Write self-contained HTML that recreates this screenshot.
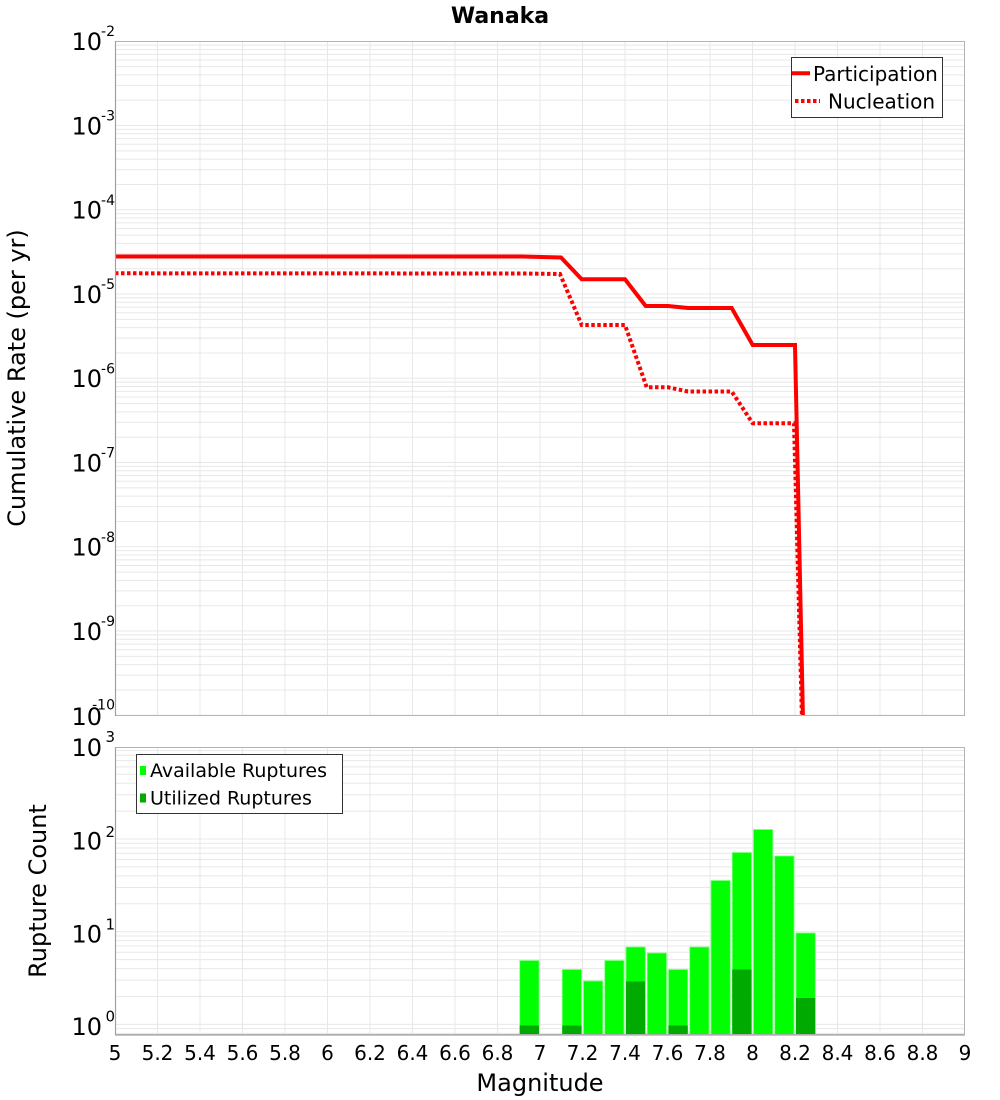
<!DOCTYPE html>
<html><head><meta charset="utf-8"><style>
html,body{margin:0;padding:0;background:#fff;}
svg{display:block;}
text{font-family:"DejaVu Sans","Liberation Sans",sans-serif;fill:#000;}
</style></head><body>
<svg width="1000" height="1100" viewBox="0 0 1000 1100" xmlns="http://www.w3.org/2000/svg">
<defs>
<clipPath id="cp1"><rect x="115" y="41" width="850" height="675"/></clipPath>
<g id="td" stroke="#e8e8e8" stroke-width="1">
<line x1="115" x2="965" y1="0" y2="0"/>
<line x1="115" x2="965" y1="-25.36" y2="-25.36"/>
<line x1="115" x2="965" y1="-40.2" y2="-40.2"/>
<line x1="115" x2="965" y1="-50.72" y2="-50.72"/>
<line x1="115" x2="965" y1="-58.89" y2="-58.89"/>
<line x1="115" x2="965" y1="-65.56" y2="-65.56"/>
<line x1="115" x2="965" y1="-71.2" y2="-71.2"/>
<line x1="115" x2="965" y1="-76.09" y2="-76.09"/>
<line x1="115" x2="965" y1="-80.39" y2="-80.39"/>
</g>
<g id="bd" stroke="#e8e8e8" stroke-width="1">
<line x1="115" x2="965" y1="0" y2="0"/>
<line x1="115" x2="965" y1="-27.91" y2="-27.91"/>
<line x1="115" x2="965" y1="-44.23" y2="-44.23"/>
<line x1="115" x2="965" y1="-55.81" y2="-55.81"/>
<line x1="115" x2="965" y1="-64.79" y2="-64.79"/>
<line x1="115" x2="965" y1="-72.14" y2="-72.14"/>
<line x1="115" x2="965" y1="-78.34" y2="-78.34"/>
<line x1="115" x2="965" y1="-83.72" y2="-83.72"/>
<line x1="115" x2="965" y1="-88.46" y2="-88.46"/>
</g>
</defs>

<!-- Title -->
<text x="500" y="23" font-size="22" font-weight="bold" text-anchor="middle">Wanaka</text>

<!-- TOP PLOT grid -->
<use href="#td" y="715.3"/>
<use href="#td" y="631.05"/>
<use href="#td" y="546.8"/>
<use href="#td" y="462.55"/>
<use href="#td" y="378.3"/>
<use href="#td" y="294.05"/>
<use href="#td" y="209.8"/>
<use href="#td" y="125.55"/>
<g stroke="#e8e8e8" stroke-width="1">
<line x1="157.5" x2="157.5" y1="41" y2="715"/>
<line x1="200" x2="200" y1="41" y2="715"/>
<line x1="242.5" x2="242.5" y1="41" y2="715"/>
<line x1="285" x2="285" y1="41" y2="715"/>
<line x1="327.5" x2="327.5" y1="41" y2="715"/>
<line x1="370" x2="370" y1="41" y2="715"/>
<line x1="412.5" x2="412.5" y1="41" y2="715"/>
<line x1="455" x2="455" y1="41" y2="715"/>
<line x1="497.5" x2="497.5" y1="41" y2="715"/>
<line x1="540" x2="540" y1="41" y2="715"/>
<line x1="582.5" x2="582.5" y1="41" y2="715"/>
<line x1="625" x2="625" y1="41" y2="715"/>
<line x1="667.5" x2="667.5" y1="41" y2="715"/>
<line x1="710" x2="710" y1="41" y2="715"/>
<line x1="752.5" x2="752.5" y1="41" y2="715"/>
<line x1="795" x2="795" y1="41" y2="715"/>
<line x1="837.5" x2="837.5" y1="41" y2="715"/>
<line x1="880" x2="880" y1="41" y2="715"/>
<line x1="922.5" x2="922.5" y1="41" y2="715"/>
</g>

<!-- TOP series -->
<g clip-path="url(#cp1)" fill="none" stroke="#ff0000" stroke-width="4" stroke-linejoin="miter">
<polyline points="115,256.5 522,256.5 561,257.5 581.7,279.3 625,279.3 645.7,306 668,306 688,308 731.7,308 752.7,345 795,345 803,720"/>
<polyline stroke-dasharray="3.5,2.5" points="115,273.3 522,273.5 560,274 581.7,325 625,325 646.7,387.3 668,387.3 688,391.5 731.7,391.5 752.7,423.3 794,423.3 802,720"/>
</g>

<!-- TOP border -->
<rect x="115.5" y="41.5" width="849" height="674" fill="none" stroke="#b4b4b4" stroke-width="1"/>
<line x1="115.5" x2="115.5" y1="41" y2="716" stroke="#a0a0a0" stroke-width="1.2"/>

<!-- TOP legend -->
<rect x="791.5" y="57.5" width="151" height="60" fill="#fff" stroke="#333" stroke-width="1"/>
<line x1="792" x2="810" y1="73.3" y2="73.3" stroke="#ff0000" stroke-width="4"/>
<text x="813" y="81" font-size="20">Participation</text>
<line x1="795" x2="820" y1="101" y2="101" stroke="#ff0000" stroke-width="4" stroke-dasharray="3.5,2.5"/>
<text x="828" y="108.5" font-size="20">Nucleation</text>

<!-- TOP y tick labels -->
<g font-size="24" text-anchor="end">
<text x="102" y="50">10</text>
<text x="102" y="134.3">10</text>
<text x="102" y="218.5">10</text>
<text x="102" y="302.8">10</text>
<text x="102" y="387">10</text>
<text x="102" y="471.3">10</text>
<text x="102" y="555.5">10</text>
<text x="102" y="639.8">10</text>
<text x="102" y="725">10</text>
</g>
<g font-size="14" text-anchor="end">
<text x="115" y="36">-2</text>
<text x="115" y="120.5">-3</text>
<text x="115" y="204.8">-4</text>
<text x="115" y="289">-5</text>
<text x="115" y="373.3">-6</text>
<text x="115" y="457.5">-7</text>
<text x="115" y="541.8">-8</text>
<text x="115" y="626">-9</text>
<text x="115" y="709.5">-10</text>
</g>

<text transform="translate(25,378) rotate(-90)" font-size="24" text-anchor="middle">Cumulative Rate (per yr)</text>

<!-- BOTTOM PLOT grid -->
<use href="#bd" y="1024.4"/>
<use href="#bd" y="931.7"/>
<use href="#bd" y="839"/>
<g stroke="#e8e8e8" stroke-width="1">
<line x1="115" x2="965" y1="1028.6" y2="1028.6"/>
<line x1="115" x2="965" y1="1033.4" y2="1033.4"/>
<line x1="157.5" x2="157.5" y1="747" y2="1035"/>
<line x1="200" x2="200" y1="747" y2="1035"/>
<line x1="242.5" x2="242.5" y1="747" y2="1035"/>
<line x1="285" x2="285" y1="747" y2="1035"/>
<line x1="327.5" x2="327.5" y1="747" y2="1035"/>
<line x1="370" x2="370" y1="747" y2="1035"/>
<line x1="412.5" x2="412.5" y1="747" y2="1035"/>
<line x1="455" x2="455" y1="747" y2="1035"/>
<line x1="497.5" x2="497.5" y1="747" y2="1035"/>
<line x1="540" x2="540" y1="747" y2="1035"/>
<line x1="582.5" x2="582.5" y1="747" y2="1035"/>
<line x1="625" x2="625" y1="747" y2="1035"/>
<line x1="667.5" x2="667.5" y1="747" y2="1035"/>
<line x1="710" x2="710" y1="747" y2="1035"/>
<line x1="752.5" x2="752.5" y1="747" y2="1035"/>
<line x1="795" x2="795" y1="747" y2="1035"/>
<line x1="837.5" x2="837.5" y1="747" y2="1035"/>
<line x1="880" x2="880" y1="747" y2="1035"/>
<line x1="922.5" x2="922.5" y1="747" y2="1035"/>
</g>

<!-- BOTTOM bars: available -->
<g fill="#00ff00" stroke="#80ff80" stroke-width="0.8">
<rect x="519.75" y="960.5" width="19.25" height="74.5"/>
<rect x="562.25" y="969.5" width="19.25" height="65.5"/>
<rect x="583.5" y="981" width="19.25" height="54"/>
<rect x="604.75" y="960.5" width="19.25" height="74.5"/>
<rect x="626" y="947" width="19.25" height="88"/>
<rect x="647.25" y="953" width="19.25" height="82"/>
<rect x="668.5" y="969.5" width="19.25" height="65.5"/>
<rect x="689.75" y="947" width="19.25" height="88"/>
<rect x="711" y="880.5" width="19.25" height="154.5"/>
<rect x="732.25" y="852.5" width="19.25" height="182.5"/>
<rect x="753.5" y="829.5" width="19.25" height="205.5"/>
<rect x="774.75" y="856" width="19.25" height="179"/>
<rect x="796" y="933" width="19.25" height="102"/>
</g>
<!-- utilized -->
<g fill="#00aa00">
<rect x="519.75" y="1025.5" width="19.25" height="9.5"/>
<rect x="562.25" y="1025.5" width="19.25" height="9.5"/>
<rect x="626" y="981.5" width="19.25" height="53.5"/>
<rect x="668.5" y="1025.5" width="19.25" height="9.5"/>
<rect x="732.25" y="969.5" width="19.25" height="65.5"/>
<rect x="796" y="998" width="19.25" height="37"/>
</g>

<!-- BOTTOM border -->
<rect x="115.5" y="747.5" width="849" height="287" fill="none" stroke="#b4b4b4" stroke-width="1"/>
<line x1="115.5" x2="115.5" y1="747" y2="1035.5" stroke="#a0a0a0" stroke-width="1.2"/>
<line x1="115" x2="965" y1="1035" y2="1035" stroke="#a8a8a8" stroke-width="1.2"/>

<!-- BOTTOM legend -->
<rect x="136.5" y="754.5" width="206" height="59" fill="#fff" stroke="#333" stroke-width="1"/>
<rect x="140" y="766" width="6" height="9" fill="#00ff00"/>
<text x="150" y="777" font-size="19">Available Ruptures</text>
<rect x="140" y="793.5" width="6" height="9" fill="#00aa00"/>
<text x="150" y="804.5" font-size="19">Utilized Ruptures</text>

<!-- BOTTOM y tick labels -->
<g font-size="24" text-anchor="end">
<text x="102" y="756">10</text>
<text x="102" y="849.3">10</text>
<text x="102" y="942.5">10</text>
<text x="102" y="1035">10</text>
</g>
<g font-size="15" text-anchor="end">
<text x="115" y="742">3</text>
<text x="115" y="837">2</text>
<text x="115" y="929.3">1</text>
<text x="115" y="1021.5">0</text>
</g>

<text transform="translate(46,891) rotate(-90)" font-size="24" text-anchor="middle">Rupture Count</text>

<!-- X tick labels -->
<g font-size="20" text-anchor="middle">
<text x="115" y="1060">5</text>
<text x="157.5" y="1060">5.2</text>
<text x="200" y="1060">5.4</text>
<text x="242.5" y="1060">5.6</text>
<text x="285" y="1060">5.8</text>
<text x="327.5" y="1060">6</text>
<text x="370" y="1060">6.2</text>
<text x="412.5" y="1060">6.4</text>
<text x="455" y="1060">6.6</text>
<text x="497.5" y="1060">6.8</text>
<text x="540" y="1060">7</text>
<text x="582.5" y="1060">7.2</text>
<text x="625" y="1060">7.4</text>
<text x="667.5" y="1060">7.6</text>
<text x="710" y="1060">7.8</text>
<text x="752.5" y="1060">8</text>
<text x="795" y="1060">8.2</text>
<text x="837.5" y="1060">8.4</text>
<text x="880" y="1060">8.6</text>
<text x="922.5" y="1060">8.8</text>
<text x="965" y="1060">9</text>
</g>
<text x="540" y="1091" font-size="24" text-anchor="middle">Magnitude</text>
</svg>
</body></html>
